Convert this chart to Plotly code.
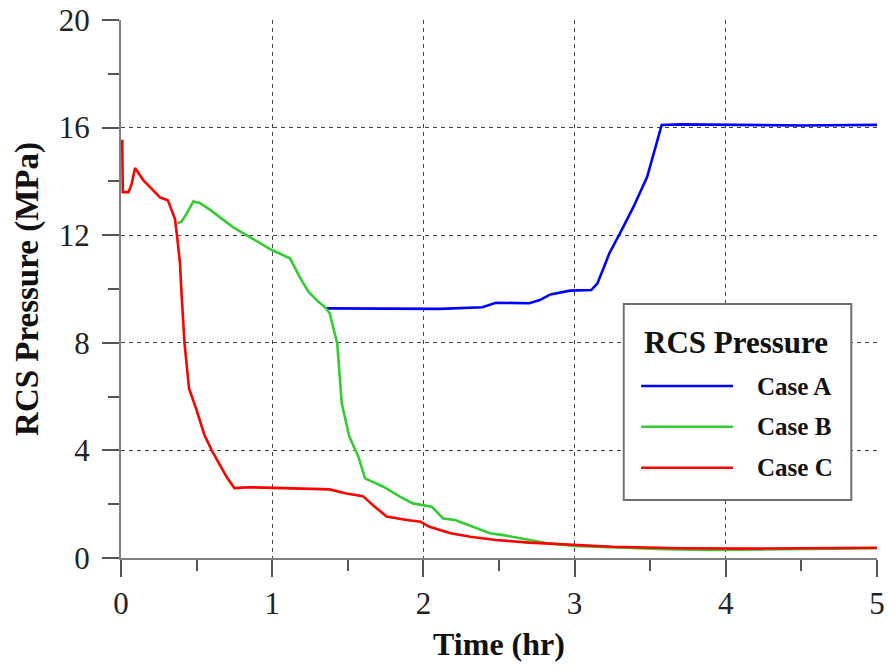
import plotly.graph_objects as go

# ---- data ----
case_a_time = [1.36, 2.11, 2.39, 2.48, 2.70, 2.77, 2.84, 2.97, 3.11, 3.15, 3.19, 3.23,
               3.30, 3.39, 3.48, 3.53, 3.576, 3.70, 4.0, 4.5, 5.0]
case_a_pres = [9.28, 9.26, 9.32, 9.49, 9.47, 9.59, 9.80, 9.94, 9.96, 10.2, 10.75, 11.33,
               12.07, 13.06, 14.17, 15.17, 16.1, 16.12, 16.1, 16.08, 16.1]

case_b_time = [0.372, 0.40, 0.434, 0.478, 0.52, 0.59, 0.74, 0.853, 0.997, 1.118, 1.18, 1.24,
               1.30, 1.35, 1.38, 1.43, 1.45, 1.46, 1.51, 1.57, 1.614, 1.735, 1.845, 1.93,
               2.055, 2.13, 2.21, 2.33, 2.44, 2.53, 2.64, 2.82, 3.0, 3.3, 3.6, 3.9, 4.3, 5.0]
case_b_pres = [12.44, 12.5, 12.8, 13.25, 13.2, 12.94, 12.3, 11.94, 11.45, 11.14, 10.46, 9.9,
               9.55, 9.32, 9.1, 7.98, 6.6, 5.75, 4.51, 3.77, 2.96, 2.65, 2.28, 2.03,
               1.91, 1.47, 1.41, 1.16, 0.92, 0.85, 0.73, 0.55, 0.45, 0.38, 0.33, 0.30, 0.33, 0.36]

case_c_time = [0.0, 0.008, 0.012, 0.05, 0.07, 0.093, 0.147, 0.21, 0.26, 0.31, 0.335, 0.357,
               0.372, 0.39, 0.40, 0.41, 0.42, 0.45, 0.50, 0.55, 0.60, 0.65, 0.70, 0.75,
               0.85, 1.14, 1.38, 1.49, 1.60, 1.68, 1.757, 1.89, 1.98, 2.04, 2.18, 2.31,
               2.48, 2.70, 3.0, 3.25, 3.70, 4.2, 5.0]
case_c_pres = [15.5, 15.5, 13.6, 13.6, 13.9, 14.5, 14.05, 13.7, 13.4, 13.3, 12.9, 12.6,
               11.9, 10.97, 9.85, 8.85, 8.0, 6.3, 5.5, 4.6, 4.0, 3.5, 3.0, 2.6,
               2.63, 2.59, 2.55, 2.4, 2.3, 1.9, 1.54, 1.41, 1.35, 1.16, 0.92, 0.79,
               0.67, 0.57, 0.48, 0.42, 0.36, 0.35, 0.38]

series_names = ["Case A", "Case B", "Case C"]
series_colors = ["#0000FF", "#33CC33", "#FF0000"]
legend_title = "RCS Pressure"
x_title = "Time (hr)"
y_title = "RCS Pressure (MPa)"
x_ticks = [0, 1, 2, 3, 4, 5]
y_ticks = [0, 4, 8, 12, 16, 20]

SERIF = "Liberation Serif, Times New Roman, serif"

fig = go.Figure()
for name, color, xs, ys in zip(series_names, series_colors,
                               [case_a_time, case_b_time, case_c_time],
                               [case_a_pres, case_b_pres, case_c_pres]):
    fig.add_trace(go.Scatter(x=xs, y=ys, mode="lines", name=name,
                             line=dict(color=color, width=2.6), showlegend=False))

axis_common = dict(
    showline=True, linecolor="#808080", linewidth=2, automargin=False,
    showgrid=True, gridcolor="#444444", gridwidth=1.4, griddash="4px,4px",
    zeroline=False, ticks="outside", tickcolor="#555555", tickwidth=1.5,
    tickfont=dict(family=SERIF, size=31, color="#222222"),
)

fig.update_xaxes(range=[0, 5], tickvals=x_ticks, ticklen=17,
                 minor=dict(ticks="outside", dtick=0.5, ticklen=11, tickcolor="#555555",
                            tickwidth=1.5, showgrid=False),
                 title=dict(text="<b>%s</b>" % x_title, font=dict(family=SERIF, size=32, color="#111111"),
                            standoff=12),
                 **axis_common)
fig.update_yaxes(range=[0, 20], tickvals=y_ticks, ticklen=17,
                 minor=dict(ticks="outside", dtick=2, ticklen=11, tickcolor="#555555",
                            tickwidth=1.5, showgrid=False),
                 ticklabelstandoff=6,
                 title=dict(text="<b>%s</b>" % y_title, font=dict(family=SERIF, size=33, color="#111111"),
                            standoff=10),
                 **axis_common)

# ---- legend box drawn in paper coordinates ----
box = dict(x0=0.665, x1=0.966, y0=0.108, y1=0.472)
fig.add_shape(type="rect", xref="paper", yref="paper", layer="above",
              fillcolor="white", line=dict(color="#707070", width=2), **box)
fig.add_annotation(xref="paper", yref="paper", x=0.814, y=0.400, xanchor="center", yanchor="middle",
                   text="<b>%s</b>" % legend_title, showarrow=False,
                   font=dict(family=SERIF, size=31, color="#111111"))
row_y = [0.3197, 0.244, 0.1678]
for name, color, yy in zip(series_names, series_colors, row_y):
    fig.add_shape(type="line", xref="paper", yref="paper", layer="above",
                  x0=0.688, x1=0.8095, y0=yy, y1=yy, line=dict(color=color, width=2.5))
    fig.add_annotation(xref="paper", yref="paper", x=0.8386, y=yy, xanchor="left", yanchor="middle",
                       text="<b>%s</b>" % name, showarrow=False,
                       font=dict(family=SERIF, size=25, color="#111111"))

fig.update_layout(width=889, height=669, margin=dict(l=121, r=12, t=20, b=111),
                  plot_bgcolor="white", paper_bgcolor="white", showlegend=False)

fig.write_html("out.html")
